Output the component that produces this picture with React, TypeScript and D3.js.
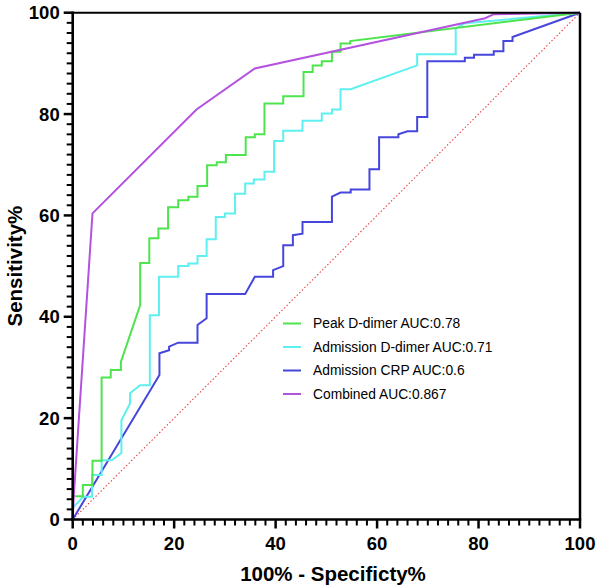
import React from "react";
import * as d3 from "d3";

// ROC curves: [100% - Specificity, Sensitivity]
const peakDdimer: [number, number][] = [
  [0, 0], [0, 4.6], [2, 4.6], [2, 6.8], [3.9, 6.8], [3.9, 11.6], [5.7, 11.6], [5.7, 28], [7.5, 28],
  [7.5, 29.5], [9.5, 29.5], [9.5, 31.1], [13.3, 42.3], [13.3, 50.6], [15.1, 50.6], [15.1, 55.5],
  [16.9, 55.5], [16.9, 57.4], [18.8, 57.4], [18.8, 61.6], [20.8, 61.6], [20.8, 63], [22.8, 63],
  [22.8, 63.7], [24.6, 63.7], [24.6, 65.8], [26.5, 65.8], [26.5, 69.9], [28.4, 69.9], [28.4, 70.5],
  [30.2, 70.5], [30.2, 71.9], [34.1, 71.9], [34.1, 75.4], [35.9, 75.4], [35.9, 76], [37.8, 76],
  [37.8, 82.1], [41.5, 82.1], [41.5, 83.5], [45.5, 83.5], [45.5, 88.3], [47.3, 88.3], [47.3, 89.6],
  [49.1, 89.6], [49.1, 90.4], [51.1, 90.4], [51.1, 92.3], [52.8, 92.3], [52.8, 93.9], [54.7, 93.9],
  [54.7, 94.4], [100, 100],
];
const admissionDdimer: [number, number][] = [
  [0, 0], [0, 2.3], [2.1, 4.5], [3.8, 4.5], [3.8, 8.8], [5.7, 8.8], [5.7, 11.7], [7.7, 11.7],
  [9.6, 13.1], [9.6, 19.6], [11.3, 22.9], [11.3, 24.9], [13.3, 26.5], [15.2, 26.5], [15.2, 40.3],
  [17, 40.3], [17, 47.9], [20.8, 47.9], [20.8, 50], [22.8, 50], [22.8, 50.5], [24.6, 50.5],
  [24.6, 52], [26.4, 52], [26.4, 55.3], [28.2, 55.3], [28.2, 59.7], [30, 59.7], [30, 60.4],
  [32, 60.4], [32, 64.3], [34, 64.3], [34, 66.3], [35.7, 66.3], [35.7, 67.1], [37.8, 67.1],
  [37.8, 68.6], [39.7, 68.6], [39.7, 74.7], [41.5, 74.7], [41.5, 76.7], [45.3, 76.7], [45.3, 78.7],
  [49.1, 78.7], [49.1, 80.1], [51.1, 80.1], [51.1, 80.9], [52.8, 80.9], [52.8, 84.9], [54.8, 84.9],
  [67.9, 89.6], [67.9, 91.8], [75.5, 91.8], [75.5, 96.9], [77.3, 97.9], [100, 100],
];
const admissionCRP: [number, number][] = [
  [0, 0], [17.1, 28.5], [17.1, 32.8], [19, 33.4], [19, 34.1], [20.8, 34.9], [24.6, 34.9],
  [24.6, 38.4], [26.4, 39.7], [26.4, 44.5], [34, 44.5], [35.9, 47.9], [39.5, 47.9], [39.5, 49.2],
  [41.5, 50], [41.5, 54.1], [43.4, 54.1], [43.4, 56.1], [45.3, 56.4], [45.3, 58.7], [51.1, 58.7],
  [51.1, 63.7], [52.8, 64.5], [54.8, 64.5], [54.8, 65.1], [58.5, 65.1], [58.5, 69.1], [60.4, 69.1],
  [60.4, 75.4], [64.2, 75.4], [64.2, 76], [66, 76.6], [67.9, 76.6], [67.9, 79.4], [69.9, 79.4],
  [69.9, 90.4], [77.3, 90.4], [77.3, 91.1], [79.1, 91.1], [79.1, 91.7], [83, 91.7], [83, 92.4],
  [84.9, 92.4], [84.9, 94.4], [86.7, 94.4], [86.7, 95.2], [100, 100],
];
const combined: [number, number][] = [
  [0, 0], [0.2, 4.5], [3.9, 60.4], [24.4, 80.9], [35.9, 89], [81.3, 98.9], [83, 99.7], [100, 100],
];

const seriesNames = [
  "Peak D-dimer AUC:0.78",
  "Admission D-dimer AUC:0.71",
  "Admission CRP AUC:0.6",
  "Combined AUC:0.867",
];
const seriesData = [peakDdimer, admissionDdimer, admissionCRP, combined];
const seriesColors = ["#4ee44e", "#5ef0f0", "#4646dc", "#b452e0"];
// draw order: back to front
const drawOrder = [2, 1, 0, 3];

const majorTicks = [0, 20, 40, 60, 80, 100];
const minorTicks = d3.range(0, 101, 2);

const xTitle = "100% - Specificty%";
const yTitle = "Sensitivity%";

const W = 600;
const H = 586;
const left = 72.7;
const right = 580;
const top = 12.7;
const bottom = 519.5;

export default function App() {
  const x = d3.scaleLinear().domain([0, 100]).range([left, right]);
  const y = d3.scaleLinear().domain([0, 100]).range([bottom, top]);
  const line = d3
    .line<[number, number]>()
    .x((d) => x(d[0]))
    .y((d) => y(d[1]));

  const font = "'Liberation Sans', Arial, Helvetica, sans-serif";

  return (
    <svg
      width={W}
      height={H}
      style={{ position: "absolute", left: 0, top: 0, background: "#fff" }}
      fontFamily={font}
    >
      <rect x={0} y={0} width={W} height={H} fill="#fff" />
      {/* diagonal reference */}
      <line
        x1={x(0)}
        y1={y(0)}
        x2={x(100)}
        y2={y(100)}
        stroke="#e8383a"
        strokeWidth={1.1}
        strokeDasharray="1.4,2.2"
      />
      {/* curves */}
      {drawOrder.map((i) => (
        <path
          key={i}
          d={line(seriesData[i]) || ""}
          fill="none"
          stroke={seriesColors[i]}
          strokeWidth={2}
          strokeLinejoin="miter"
        />
      ))}
      {/* frame top & right */}
      <line x1={x(0)} y1={y(100)} x2={x(100)} y2={y(100)} stroke="#000" strokeWidth={2} />
      <line x1={x(100)} y1={y(100)} x2={x(100)} y2={y(0)} stroke="#000" strokeWidth={2.5} />
      {/* y axis */}
      {minorTicks.map((t) => (
        <line
          key={"ym" + t}
          x1={x(0)}
          x2={x(0) - (t % 20 === 0 ? 9 : 6)}
          y1={y(t)}
          y2={y(t)}
          stroke="#000"
          strokeWidth={t % 20 === 0 ? 2.5 : 2}
        />
      ))}
      <line x1={x(0)} y1={y(0) + 1.5} x2={x(0)} y2={y(100) - 1.2} stroke="#000" strokeWidth={2.6} />
      {majorTicks.map((t) => (
        <text
          key={"yl" + t}
          x={x(0) - 13}
          y={y(t)}
          dy="0.36em"
          textAnchor="end"
          fontSize={18.5}
          fontWeight="bold"
        >
          {t}
        </text>
      ))}
      {/* x axis */}
      {minorTicks.map((t) => (
        <line
          key={"xm" + t}
          x1={x(t)}
          x2={x(t)}
          y1={y(0)}
          y2={y(0) + (t % 20 === 0 ? 9 : 6)}
          stroke="#000"
          strokeWidth={t % 20 === 0 ? 2.5 : 2}
        />
      ))}
      <line x1={x(0) - 1.3} y1={y(0)} x2={x(100) + 1.2} y2={y(0)} stroke="#000" strokeWidth={2.6} />
      {majorTicks.map((t) => (
        <text
          key={"xl" + t}
          x={x(t)}
          y={550}
          textAnchor="middle"
          fontSize={18.5}
          fontWeight="bold"
        >
          {t}
        </text>
      ))}
      {/* axis titles */}
      <text x={333} y={581} textAnchor="middle" fontSize={20.5} fontWeight="bold">
        {xTitle}
      </text>
      <text
        transform={`translate(21.5, ${(top + bottom) / 2}) rotate(-90)`}
        textAnchor="middle"
        fontSize={20.5}
        fontWeight="bold"
      >
        {yTitle}
      </text>
      {/* legend */}
      {seriesNames.map((name, i) => {
        const ly = 323.5 + i * 23.5;
        return (
          <g key={"lg" + i}>
            <line x1={283} x2={301} y1={ly} y2={ly} stroke={seriesColors[i]} strokeWidth={2} />
            <text x={313} y={ly} dy="0.35em" fontSize={13.8}>
              {name}
            </text>
          </g>
        );
      })}
    </svg>
  );
}
